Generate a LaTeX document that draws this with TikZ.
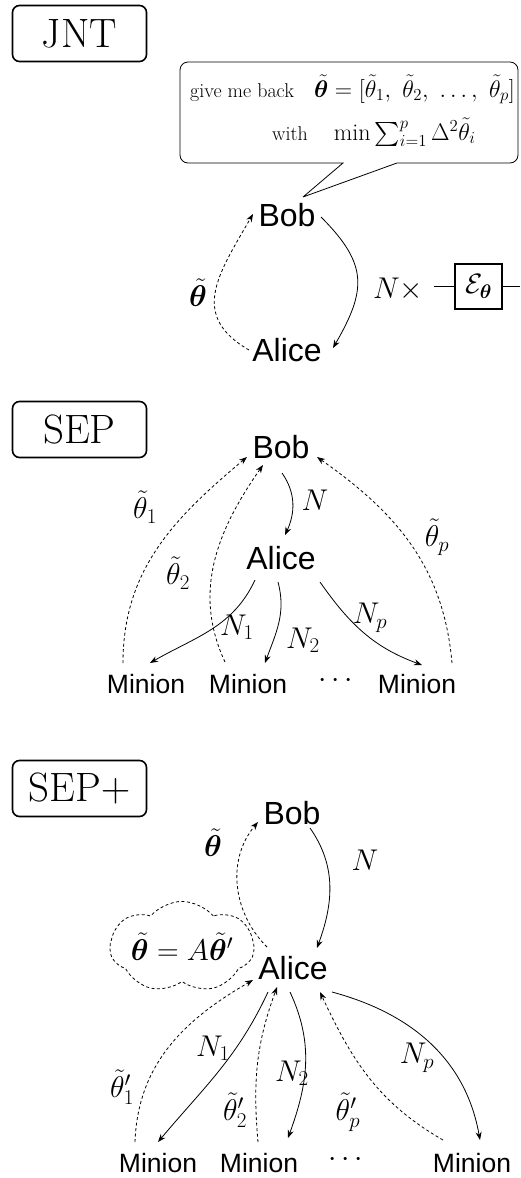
\RequirePackage{fix-cm}
\documentclass[tikz,border=0pt]{standalone}
\usepackage{amsmath,amssymb,bm}
\usepackage{fontspec}
\newfontfamily\namefam{Liberation Sans}
\usetikzlibrary{arrows.meta,calc,shapes.symbols}
\newcommand{\tth}{\tilde{\theta}}
\newcommand{\btth}{\tilde{\bm{\theta}}}
\newcommand{\qmath}[1]{{\fontsize{24}{24}\selectfont #1}}
\tikzset{
  who/.style={font=\namefam\fontsize{32}{32}\selectfont, inner sep=0pt},
  minion/.style={font=\namefam\fontsize{26.5}{26.5}\selectfont, inner sep=0pt},
  lbl/.style={font=\fontsize{30}{30}\selectfont, inner sep=0pt},
  quote/.style={anchor=base west, inner sep=0pt, font=\fontsize{20}{20}\selectfont},
  titlebox/.style={draw, rounded corners=7pt, line width=1.6pt, minimum width=134pt, minimum height=56pt, inner sep=0pt, font=\fontsize{41}{41}\selectfont},
  sarr/.style={-{Stealth[length=8pt,width=6pt]}, line width=0.8pt},
  darr/.style={sarr, dash pattern=on 3pt off 2.5pt},
}
\begin{document}
\begin{tikzpicture}[x=1pt,y=1pt]
\useasboundingbox (0,0) rectangle (520,-1178);
% ---------------- JNT ----------------
\node[titlebox] (t1) at (79.5,-33.5) {JNT};
\node[who] (b1) at (287,-215) {Bob};
\node[who] (a1) at (287,-350) {Alice};
\coordinate (tip) at ($(b1)+(16,18)$);
\draw[line width=0.8pt] (tip) -- (343,-163) [rounded corners=8pt] -- (180,-163) -- (180,-62) -- (518,-62) -- (518,-163) [sharp corners] -- (397,-163) -- (tip);
\node[quote] (q1) at (190,-97) {give me back\quad\qmath{$\btth = [\tth_1,\ \tth_2,\ \ldots,\ \tth_p]$}};
\node[quote] (q2) at (272,-140) {with\hspace{26pt}\qmath{$\min\sum_{i=1}^{p}\Delta^2\tth_i$}};
\draw[sarr] ($(b1)+(34,-2)$) to[out=-45,in=60,looseness=1.3] ($(a1)+(46,2)$);
\draw[darr] ($(a1)+(-38,0)$) to[out=150,in=-120,looseness=1.3] ($(b1)+(-34,1)$);
\node[lbl] (l1) at (198,-293) {$\btth$};
\node[lbl, anchor=center] (nx) at (398,-289) {$N\times$};
\node[draw, line width=1.3pt, minimum width=47pt, minimum height=45pt, inner sep=0pt, font=\fontsize{28}{28}\selectfont] (gate) at (478.5,-286.5) {$\mathcal{E}_{\bm{\theta}}$};
\coordinate (wl) at (434,-286.5);
\coordinate (wr) at (520,-286.5);
\draw[line width=1.3pt] (wl) -- (gate.west);
\draw[line width=1.3pt] (gate.east) -- (wr);
% ---------------- SEP ----------------
\node[titlebox] (t2) at (79.5,-429.5) {SEP};
\node[who] (b2) at (281,-447) {Bob};
\node[who] (a2) at (281,-558) {Alice};
\node[minion] (m21) at (146,-684) {Minion};
\node[minion] (m22) at (248,-684) {Minion};
\node[lbl] (d2) at (338,-681) {$\cdots$};
\node[minion] (m23) at (417,-684) {Minion};
\draw[sarr] ($(b2)+(1,-26)$) to[out=-55,in=65] ($(a2)+(4,23)$);
\node[lbl] (n2) at (315,-500) {$N$};
\draw[sarr] ($(a2)+(-26,-22)$) to[out=-115,in=30] ($(m21)+(4,21)$);
\node[lbl] (n21) at (237,-627) {$N_1$};
\draw[sarr] ($(a2)+(-3,-24)$) to[out=-75,in=70] ($(m22)+(17,21)$);
\node[lbl] (n22) at (303,-640) {$N_2$};
\draw[sarr] ($(a2)+(39,-24)$) to[out=-55,in=160] ($(m23)+(5,19)$);
\node[lbl] (n23) at (370,-618) {$N_p$};
\draw[darr] ($(m21)+(-23,21)$) to[out=90,in=-140] ($(b2)+(-34,-10)$);
\node[lbl] (th21) at (145,-507) {$\tth_1$};
\draw[darr] ($(m22)+(-23,22)$) to[out=115,in=-125] ($(b2)+(-18,-18)$);
\node[lbl] (th22) at (178,-573) {$\tth_2$};
\draw[darr] ($(m23)+(35,21)$) to[out=95,in=-35] ($(b2)+(36,-10)$);
\node[lbl] (th23) at (437,-537) {$\tth_p$};
% ---------------- SEP+ ----------------
\node[titlebox] (t3) at (79.5,-788.5) {SEP$+$};
\node[who] (b3) at (292,-813) {Bob};
\node[who] (a3) at (293,-968) {Alice};
\node[minion] (m31) at (158,-1163) {Minion};
\node[minion] (m32) at (259,-1163) {Minion};
\node[lbl] (d3) at (348,-1160) {$\cdots$};
\node[minion] (m33) at (472,-1163) {Minion};
\node[cloud, cloud puffs=7, cloud puff arc=100, aspect=2.1, draw, dash pattern=on 3pt off 2.5pt, line width=0.8pt, minimum width=140pt, minimum height=68pt, inner sep=0pt, font=\fontsize{30}{30}\selectfont] (c3) at (182,-947) {$\btth = A\btth'$};
\draw[sarr] ($(b3)+(18,-15)$) to[out=-55,in=70] ($(a3)+(24,20)$);
\node[lbl] (n3) at (365,-860) {$N$};
\draw[darr] ($(a3)+(-26,21)$) to[out=135,in=-130] ($(b3)+(-34,-9)$);
\node[lbl] (l3) at (213,-843) {$\btth$};
\draw[sarr] ($(a3)+(-25,-24)$) to[out=-115,in=50] ($(m31)+(0,21)$);
\node[lbl] (n31) at (213,-1048) {$N_1$};
\draw[darr] ($(m31)+(-23,21)$) to[out=88,in=-150] ($(a3)+(-40,-12)$);
\node[lbl] (th31) at (122,-1087) {$\tth'_1$};
\draw[darr] ($(m32)+(-1,21)$) to[out=95,in=-110] ($(a3)+(-16,-19)$);
\node[lbl] (th32) at (235,-1110) {$\tth'_2$};
\draw[sarr] ($(a3)+(-3,-24)$) to[out=-65,in=70] ($(m32)+(29,25)$);
\node[lbl] (n32) at (292,-1073) {$N_2$};
\draw[darr] ($(m33)+(-29,23)$) to[out=150,in=-65] ($(a3)+(27,-24)$);
\node[lbl] (th33) at (348,-1112) {$\tth'_p$};
\draw[sarr] ($(a3)+(39,-24)$) to[out=-15,in=100] ($(m33)+(8,23)$);
\node[lbl] (n33) at (417,-1058) {$N_p$};
\end{tikzpicture}
\end{document}
